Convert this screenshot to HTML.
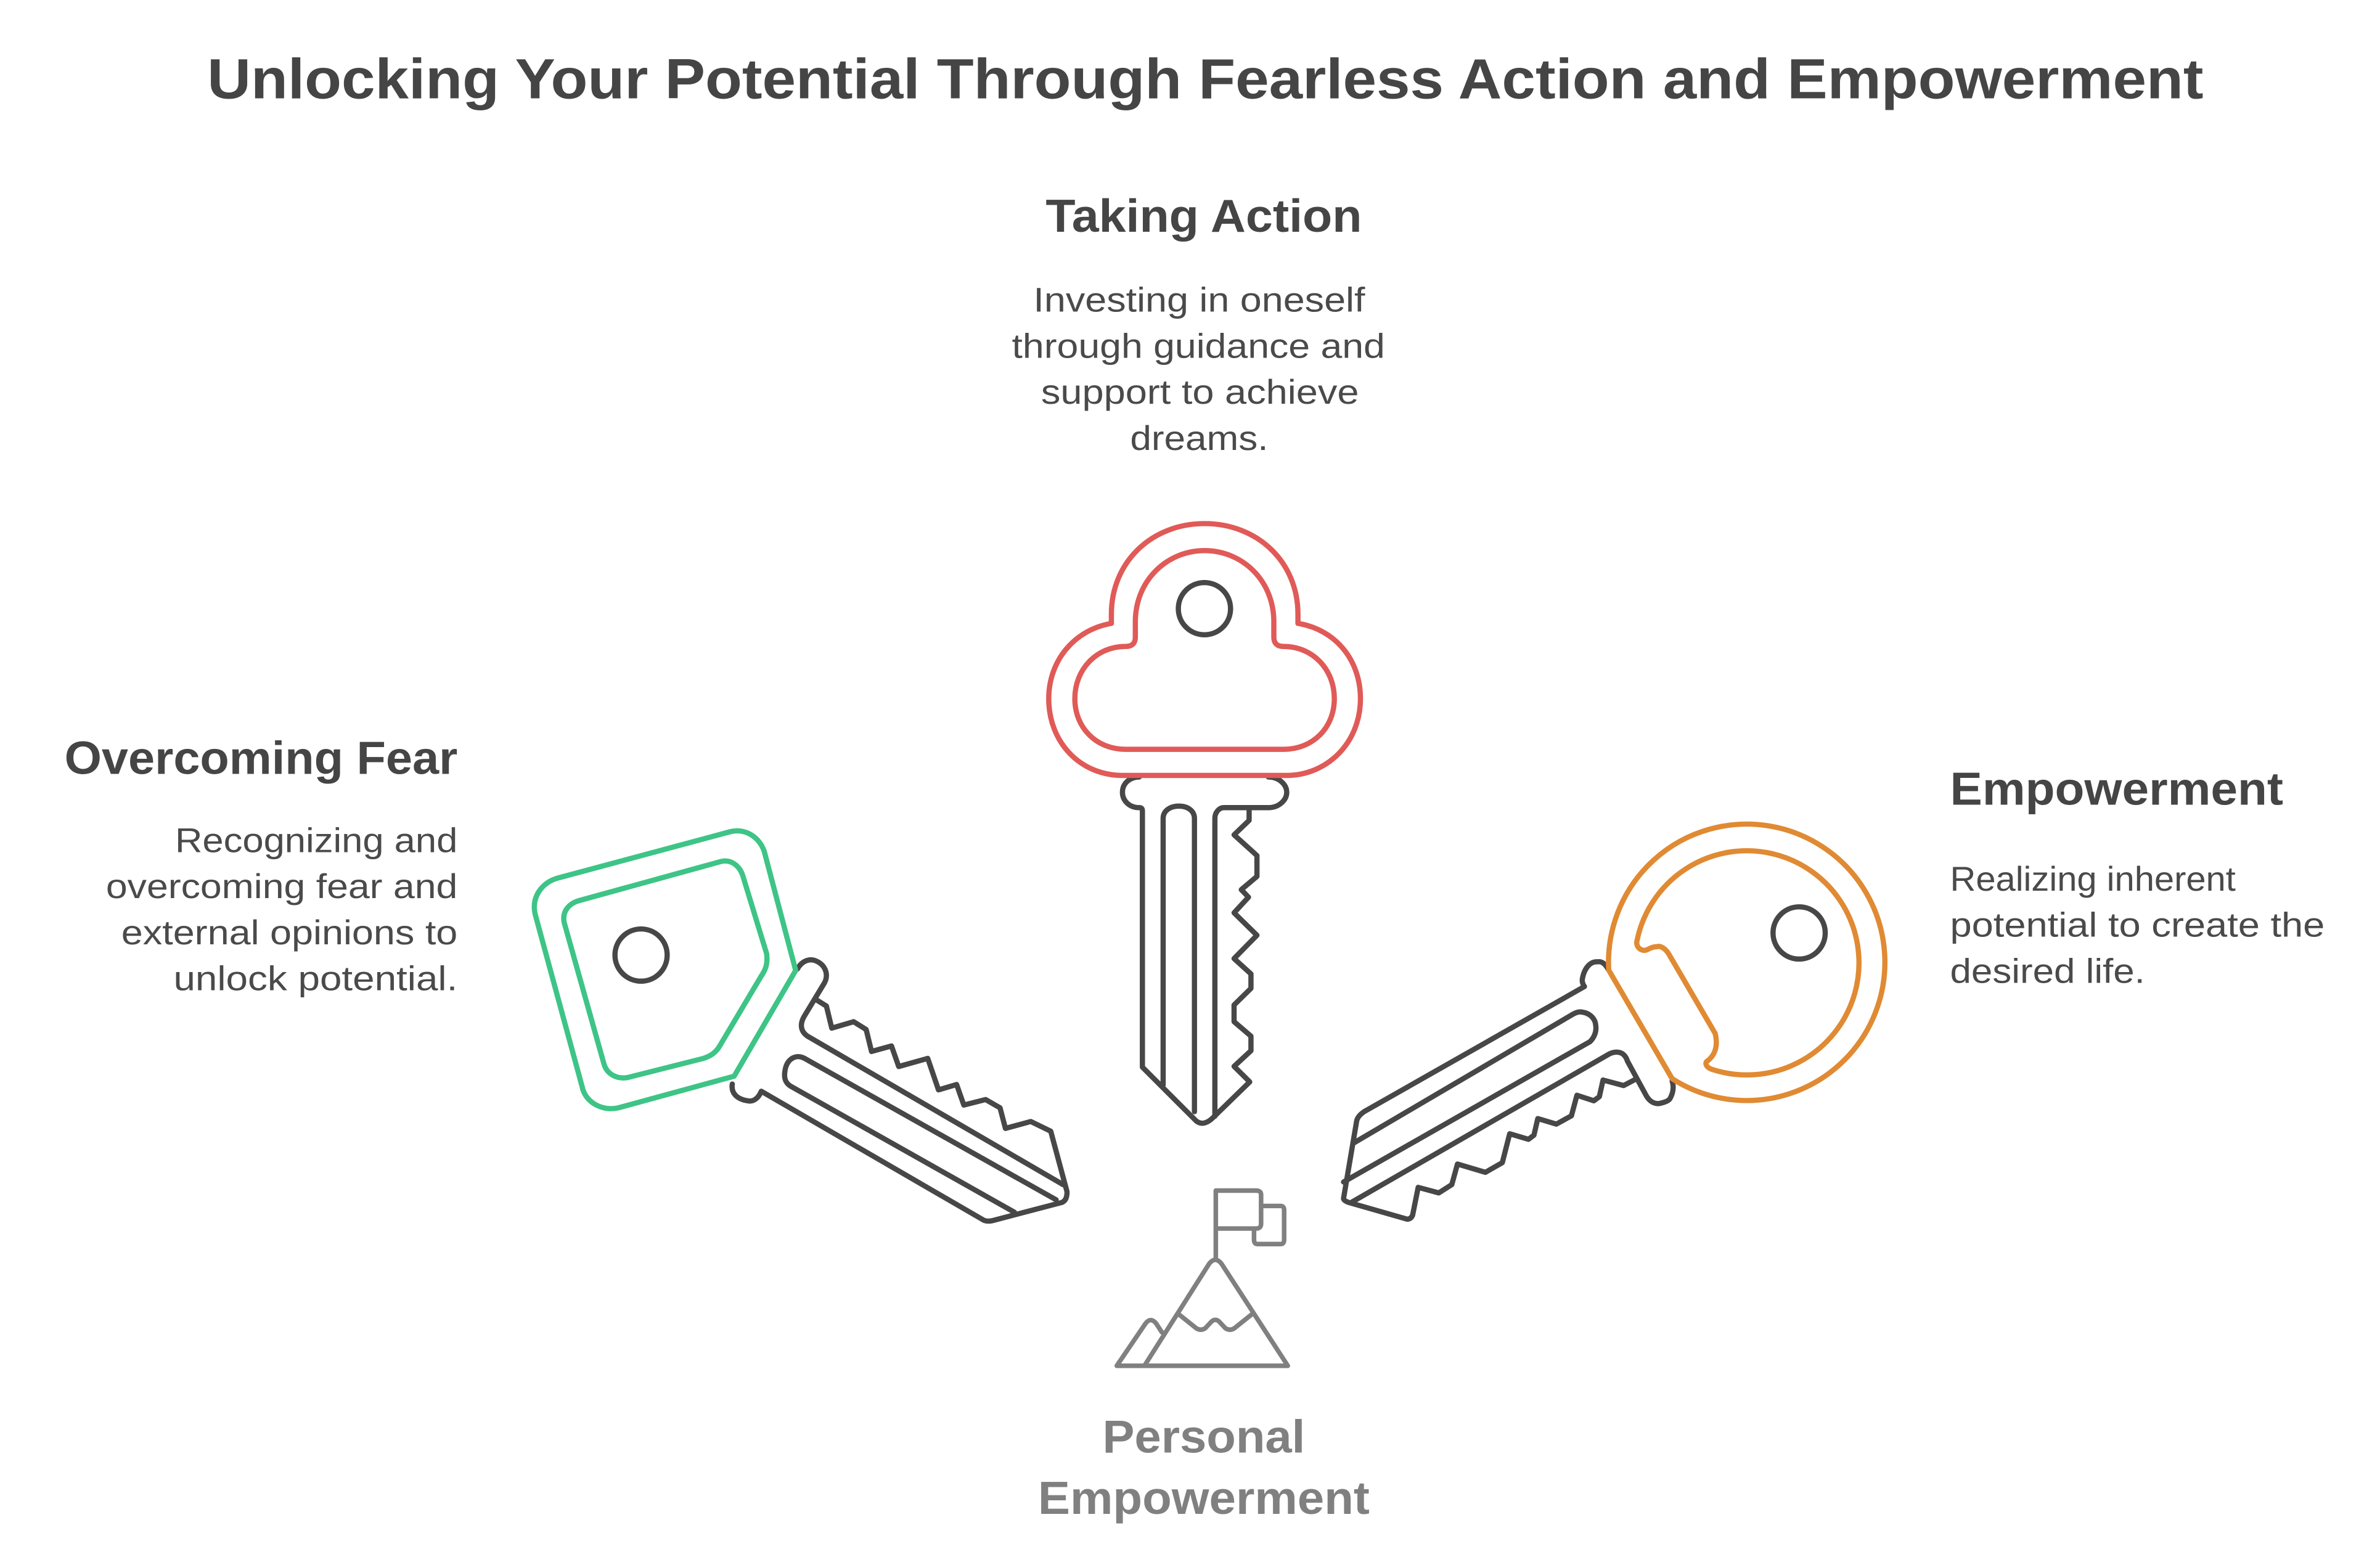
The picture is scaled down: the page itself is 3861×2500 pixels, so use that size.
<!DOCTYPE html>
<html><head><meta charset="utf-8"><style>
html,body{margin:0;padding:0;background:#fff;}
svg{display:block;}
text{font-family:"Liberation Sans",Arial,sans-serif;}
</style></head><body>
<svg width="3861" height="2500" viewBox="0 0 1550 1003.6" xmlns="http://www.w3.org/2000/svg">
<rect width="1550" height="1003.6" fill="#fff"/>
<!-- Title -->
<text x="785" y="64" text-anchor="middle" font-size="37" font-weight="bold" fill="#454545" textLength="1300" lengthAdjust="spacingAndGlyphs">Unlocking Your Potential Through Fearless Action and Empowerment</text>

<!-- Taking Action -->
<text x="784" y="151" text-anchor="middle" font-size="30" font-weight="bold" fill="#454545" textLength="206" lengthAdjust="spacingAndGlyphs">Taking Action</text>
<g font-size="22.5" fill="#4a4a4a" text-anchor="middle">
<text x="781" y="203" textLength="216" lengthAdjust="spacingAndGlyphs">Investing in oneself</text>
<text x="780.5" y="233" textLength="243" lengthAdjust="spacingAndGlyphs">through guidance and</text>
<text x="781.5" y="263" textLength="207" lengthAdjust="spacingAndGlyphs">support to achieve</text>
<text x="781" y="293" textLength="90" lengthAdjust="spacingAndGlyphs">dreams.</text>
</g>

<!-- Overcoming Fear -->
<text x="298" y="504" text-anchor="end" font-size="30" font-weight="bold" fill="#454545" textLength="256" lengthAdjust="spacingAndGlyphs">Overcoming Fear</text>
<g font-size="22.5" fill="#4a4a4a" text-anchor="end">
<text x="298" y="555" textLength="184" lengthAdjust="spacingAndGlyphs">Recognizing and</text>
<text x="298" y="585" textLength="229" lengthAdjust="spacingAndGlyphs">overcoming fear and</text>
<text x="298" y="615" textLength="219" lengthAdjust="spacingAndGlyphs">external opinions to</text>
<text x="298" y="645" textLength="185" lengthAdjust="spacingAndGlyphs">unlock potential.</text>
</g>

<!-- Empowerment -->
<text x="1270" y="524" font-size="30" font-weight="bold" fill="#454545" textLength="217" lengthAdjust="spacingAndGlyphs">Empowerment</text>
<g font-size="22.5" fill="#4a4a4a">
<text x="1270" y="580" textLength="186" lengthAdjust="spacingAndGlyphs">Realizing inherent</text>
<text x="1270" y="610" textLength="244" lengthAdjust="spacingAndGlyphs">potential to create the</text>
<text x="1270" y="640" textLength="127" lengthAdjust="spacingAndGlyphs">desired life.</text>
</g>

<!-- Personal Empowerment -->
<text x="784" y="946" text-anchor="middle" font-size="30" font-weight="bold" fill="#808080" textLength="132" lengthAdjust="spacingAndGlyphs">Personal</text>
<text x="784" y="986" text-anchor="middle" font-size="30" font-weight="bold" fill="#808080" textLength="216" lengthAdjust="spacingAndGlyphs">Empowerment</text>

<g fill="none" stroke-linejoin="round" stroke-linecap="round">
<!-- RED KEY -->
<g stroke="#474747" stroke-width="3.4">
<path d="M742,506 C736,506 731,510 731,516 C731,521 735,526 742,526 Q744,526 744,528 L744,695 L779,730 Q784,734 790.4,727.5 L813.9,704.6 L803.7,694.5 L814.7,684.3 L814.7,674.8 L803.7,665.4 L803.7,654.5 L814.7,643.7 L814.7,634.3 L803.7,624.3 L818.6,609.1 L803.7,594.5 L813.1,584.3 L808.4,579.4 L818.6,570.8 L818.6,557.2 L803.7,543.7 L813.5,534.3 L813.5,526"/>
<path d="M826,506 C833,506 838,511 838,516 C838,521 833,526 826,526 L797,526 C794,526 791.2,529 791.2,533 L791.2,727"/>
<path d="M757.5,706.6 L757.5,533 C757.5,528 762,525 767.7,525 C773.5,525 777.9,528 777.9,533 L777.9,724"/>
</g>
<g stroke="#E05A57" stroke-width="3.4" fill="#fff">
<path d="M723.8,405 L723.8,400 C723.8,366 750,341 784.5,341 C819,341 845.3,366 845.3,400 L845.3,406 C870,410 886,430 886,455 C886,484 864,505 838,505 L731,505 C704,505 683,484 683,455 C683,430 700,410 723.8,406 Z"/>
<path d="M739.4,415 L739.4,405 C739.4,378 760,358.6 784.5,358.6 C809,358.6 829.6,378 829.6,405 L829.6,415 Q829.6,421 836,421 C855,421 869,436 869,455 C869,474 855,488 836,488 L733,488 C714,488 700,474 700,455 C700,436 714,421 733,421 Q739.4,421 739.4,415 Z" fill="none"/>
</g>
<circle cx="784.4" cy="396.4" r="17" stroke="#474747" stroke-width="3.4"/>

<!-- GREEN KEY -->
<g stroke="#474747" stroke-width="3.4">
<path d="M519.3,631.1 C522,626 527,624 531.1,625.7 C537,628 540,634 537,640 L524,661.5 C520,668 522,673 527.6,675.8 L692.5,771.6"/>
<path d="M531.1,650.8 L538.2,655.2 L541.7,669.6 L555.9,665.4 L564.1,670.5 L567.6,684.8 L580.6,681.2 L585.3,694.6 L604.2,689.3 L611.2,709.8 L623,706.3 L627.7,719.7 L641.9,716.1 L651.3,721.5 L654.8,734.9 L671.3,730.4 L684.3,736.7 L694.9,776.1 Q695,782 691.3,783.2 L646.6,794.9 Q642,796 639.5,794 L495.8,710.7 C494,715 491,717.5 487.5,717 C480,716 476,712 476.9,706"/>
<path d="M687.8,781.4 L524,689.3 C518,686 512,690 511.1,698.2 C510.5,703 512,705.5 514.6,707.2 L660.7,789.5"/>
</g>
<g stroke="#3DC486" stroke-width="3.4">
<path d="M362.7,572 L475.8,541.6 C487,539 496,547 498.1,555.9 L518.2,632 L478.1,700.9 L402.7,721.5 C391,724 381,717 379.2,708 L348.5,595.3 C346,584 353,575 362.7,572 Z"/>
<path d="M378,586.3 L468.7,561.3 C476,559 482,564 484,571.1 L499.3,621.2 C500,627 499,631 495.8,635.6 L468.7,681.2 C466,686 462,688 458.1,689.3 L408.6,701.8 C401,703 395,699 393.3,692.8 L367.4,600.7 C366,593 371,588 378,586.3 Z"/>
</g>
<circle cx="417.5" cy="622" r="17" stroke="#474747" stroke-width="3.4"/>

<!-- ORANGE KEY -->
<g transform="translate(2,-1)">
<g stroke="#474747" stroke-width="3.4">
<path d="M1045.7,632.8 C1043,628 1041,627 1038.4,627.4 C1034,627 1030,631 1028.6,638.1 Q1028,641 1029.9,643.5 L886.4,725 Q882,728 881.5,731.3 L873,781.5 Q873,783 876.6,784.2 L914.3,795 Q917,795 918,792.3 L921.6,774.3 L935,777.9 L943.5,772.5 L947.2,759.1 L965.4,764.5 L976.4,758.2 L981.2,739.4 L993.4,743 L997,740.3 L999.5,729.5 L1011.6,733.1 L1021.4,727.7 L1025,714.3 L1036,717.9 L1039.6,715.2 L1042,704.4 L1055.4,708 L1063.9,703.5"/>
<path d="M877.9,784.2 L1044.5,688.3 C1048,686 1051,686 1053,686.5 C1055,687 1057,689 1057.8,691.9 L1070,714.3 C1072,718 1075,720 1078.5,719.7 C1082,719 1085,718 1085.8,716.1 C1088,712 1088,708 1087,705"/>
<path d="M879.1,745.7 L1022.6,661.4 Q1026,659.5 1028.6,660.2 C1034,661 1037,665 1037.2,668.6 C1038,673 1036,677 1033.5,679.4 L873,770.8"/>
</g>
<g stroke="#E08A33" stroke-width="3.4">
<path d="M1045.7,632.8 A90,90 0 1 1 1087,703.5 L1045.7,632.8"/>
<path d="M1063.9,614.8 A73,73 0 1 1 1112.5,697.3 C1109,696 1108,693 1110.1,691.9 C1115,688 1117,682 1115,674 L1084.6,622 C1082,618 1079,617 1077.3,617.5 C1074,617.5 1072,619 1071.2,619.3 C1068,621 1064,619 1063.9,614.8 Z"/>
</g>
<circle cx="1169.7" cy="608.6" r="17" stroke="#474747" stroke-width="3.4"/>
</g>

<!-- MOUNTAIN ICON -->
<g transform="translate(8,8)" stroke="#808080" stroke-width="3">
<path d="M783.8,811 L783.8,767.4 L810,767.4 Q813.3,767.4 813.3,770 L813.3,789 Q813.3,792.1 810,792.1 L783.8,792.1"/>
<path d="M813.3,777.4 L826,777.4 Q828.3,777.4 828.3,780 L828.3,799.5 Q828.3,802.2 826,802.2 L811,802.2 Q808.7,802.2 808.7,799.5 L808.7,792.1"/>
<path d="M737.3,881.5 L779.5,815 Q783.5,810 787.5,815 L830.7,881.5 L719.3,881.5 L738,854 Q741.4,849.5 745,854 L748.7,859.7"/>
<path d="M759.4,847.7 L771,857 Q774,859 777,857 L781,852.7 Q783.5,850.5 786,852.7 L790,857 Q793,859 796,857 L807.6,847.7"/>
</g>
</g>
</svg>
</body></html>
